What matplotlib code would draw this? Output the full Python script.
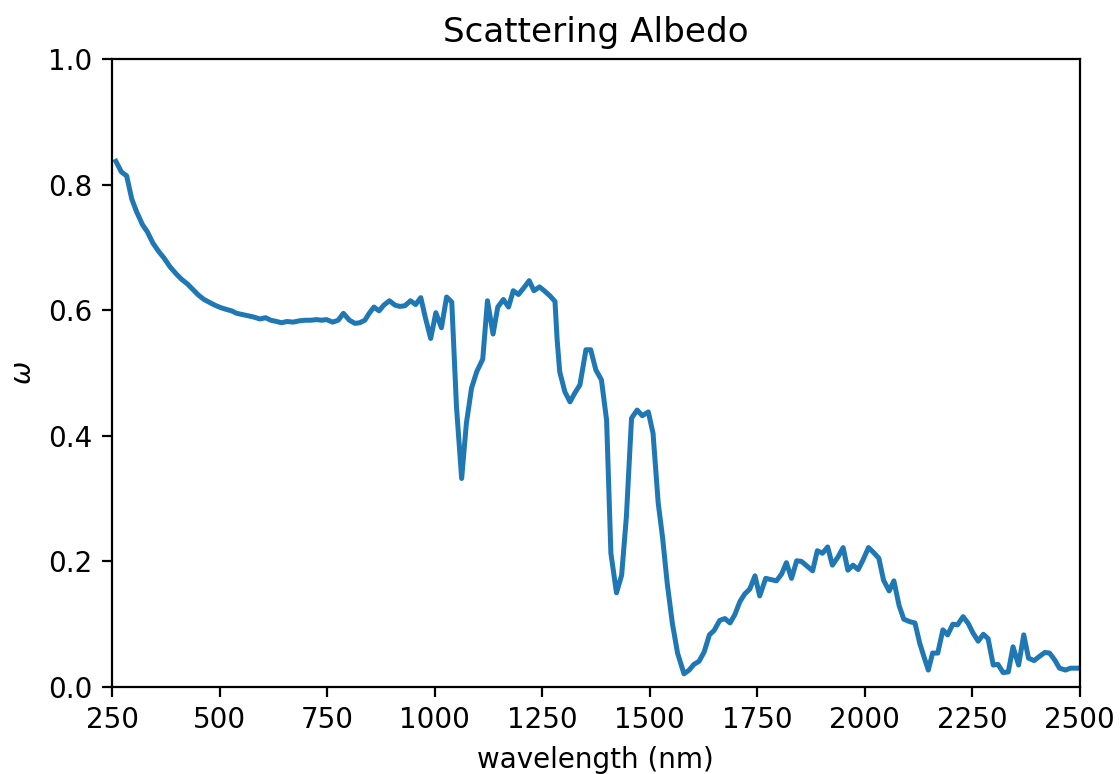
import numpy as np
import matplotlib
matplotlib.use("Agg")
import matplotlib.pyplot as plt

# wavelength (nm) and single scattering albedo
wavelength = [
    259, 272, 284, 296, 307, 321, 332, 345, 358, 371, 385, 399, 412, 425, 438,
    451, 464, 478, 489, 503, 517, 528, 540, 554, 567, 580, 594, 607, 619, 633,
    644, 657, 671, 685, 699, 712, 726, 737, 749, 763, 776, 788, 802, 815, 826,
    838, 848, 859, 871, 882, 895, 908, 919, 931, 944, 956, 968, 979, 991, 1003,
    1016, 1028, 1040, 1051, 1063, 1074, 1086, 1098, 1112, 1123, 1136, 1147,
    1160, 1172, 1183, 1195, 1208, 1220, 1231, 1244, 1255, 1268, 1280, 1285,
    1291, 1303, 1315, 1326, 1338, 1352, 1363, 1375, 1388, 1400, 1410, 1423,
    1435, 1446, 1458, 1471, 1483, 1497, 1508, 1520, 1530, 1541, 1553, 1565,
    1580, 1592, 1603, 1615, 1627, 1639, 1650, 1663, 1675, 1687, 1698, 1710,
    1721, 1733, 1745, 1756, 1770, 1782, 1795, 1807, 1818, 1830, 1842, 1853,
    1867, 1879, 1890, 1902, 1914, 1925, 1938, 1950, 1961, 1973, 1985, 1996,
    2009, 2021, 2033, 2044, 2057, 2068, 2080, 2091, 2105, 2117, 2128, 2138,
    2148, 2158, 2170, 2182, 2193, 2205, 2216, 2229, 2241, 2252, 2264, 2276,
    2287, 2299, 2310, 2322, 2334, 2345, 2358, 2370, 2381, 2394, 2405, 2419,
    2430, 2442, 2453, 2467, 2479, 2490, 2500,
]
albedo = [
    0.837, 0.820, 0.814, 0.777, 0.757, 0.736, 0.725, 0.707, 0.694, 0.683,
    0.669, 0.658, 0.649, 0.642, 0.633, 0.624, 0.617, 0.612, 0.608, 0.604,
    0.601, 0.599, 0.595, 0.593, 0.591, 0.589, 0.586, 0.588, 0.584, 0.582,
    0.580, 0.582, 0.581, 0.583, 0.584, 0.584, 0.585, 0.584, 0.585, 0.581,
    0.584, 0.595, 0.584, 0.579, 0.580, 0.584, 0.595, 0.605, 0.599, 0.608,
    0.615, 0.608, 0.606, 0.607, 0.615, 0.609, 0.620, 0.587, 0.555, 0.596,
    0.572, 0.621, 0.613, 0.446, 0.332, 0.420, 0.476, 0.502, 0.522, 0.615,
    0.562, 0.605, 0.617, 0.605, 0.631, 0.625, 0.636, 0.647, 0.631, 0.637,
    0.631, 0.623, 0.614, 0.553, 0.502, 0.470, 0.454, 0.468, 0.481, 0.537,
    0.537, 0.505, 0.489, 0.425, 0.213, 0.150, 0.178, 0.271, 0.428, 0.441,
    0.432, 0.438, 0.404, 0.293, 0.239, 0.165, 0.101, 0.054, 0.021, 0.027,
    0.036, 0.041, 0.056, 0.083, 0.090, 0.106, 0.109, 0.102, 0.115, 0.136,
    0.148, 0.156, 0.177, 0.145, 0.173, 0.171, 0.169, 0.180, 0.198, 0.173,
    0.201, 0.200, 0.192, 0.185, 0.217, 0.213, 0.223, 0.194, 0.207, 0.222,
    0.186, 0.194, 0.187, 0.202, 0.222, 0.214, 0.205, 0.170, 0.153, 0.169,
    0.130, 0.108, 0.104, 0.102, 0.070, 0.048, 0.027, 0.054, 0.054, 0.091,
    0.083, 0.100, 0.099, 0.112, 0.101, 0.086, 0.073, 0.084, 0.077, 0.035,
    0.036, 0.023, 0.024, 0.064, 0.035, 0.083, 0.046, 0.042, 0.048, 0.055,
    0.054, 0.043, 0.030, 0.027, 0.030, 0.030, 0.030,
]

fig = plt.figure(figsize=(5.6, 3.87), dpi=200)
ax = fig.add_axes([0.1, 0.1124, 0.864, 0.8114])

ax.plot(wavelength, albedo, color="#1f77b4", linewidth=1.8)

ax.set_xlim(250, 2500)
ax.set_ylim(0, 1.0)
ax.set_xticks([250, 500, 750, 1000, 1250, 1500, 1750, 2000, 2250, 2500])
ax.set_yticks([0.0, 0.2, 0.4, 0.6, 0.8, 1.0])
ax.set_title("Scattering Albedo", fontsize=12.3)
ax.set_xlabel("wavelength (nm)")
ax.set_ylabel(r"$\omega$")

fig.savefig("out.png", dpi=200)
